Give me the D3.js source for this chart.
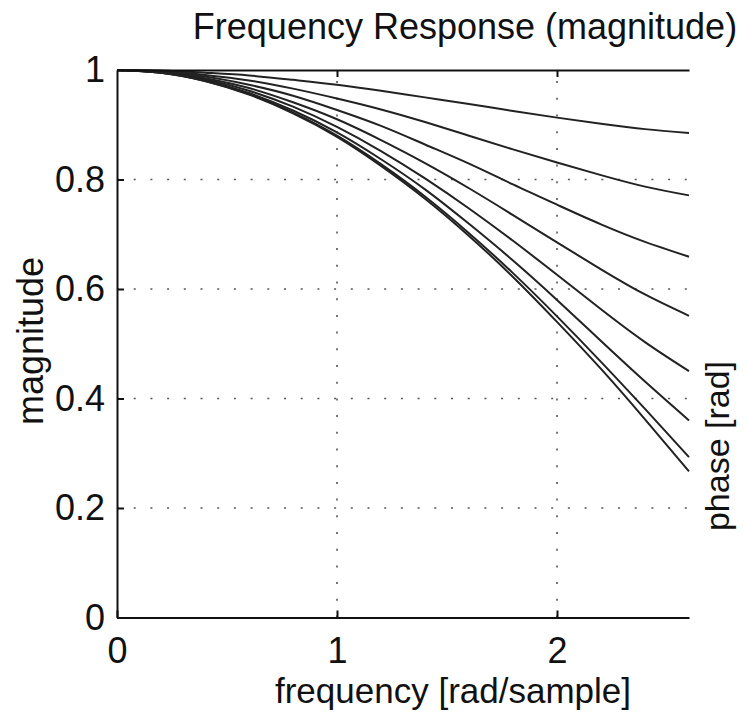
<!DOCTYPE html>
<meta charset="utf-8">
<body style="margin:0;background:#fff">
<style>

text {
  font-family: "Liberation Sans", Arial, sans-serif;
  fill: #111;
}

.curve {
  fill: none;
  stroke: #222;
  stroke-width: 2px;
}

.grid line {
  stroke: #555;
  stroke-width: 1.6px;
  stroke-dasharray: 2, 14.7;
}

</style>
<script src="https://d3js.org/d3.v7.min.js"></script>
<script>

var freq = [0, 0.2, 0.4, 0.6, 0.8, 1.0, 1.2, 1.4, 1.6, 1.8, 2.0, 2.2, 2.4, 2.6];

// magnitude of each curve, top to bottom
var mag1 = [1, 0.999, 0.995, 0.990, 0.982, 0.973, 0.962, 0.950, 0.938, 0.925, 0.913, 0.902, 0.892, 0.885];
var mag2 = [1, 0.998, 0.991, 0.981, 0.966, 0.948, 0.928, 0.905, 0.880, 0.855, 0.831, 0.808, 0.787, 0.771];
var mag3 = [1, 0.997, 0.988, 0.973, 0.953, 0.927, 0.898, 0.864, 0.829, 0.791, 0.754, 0.718, 0.686, 0.659];
var mag4 = [1, 0.996, 0.985, 0.967, 0.941, 0.910, 0.872, 0.830, 0.784, 0.735, 0.685, 0.636, 0.590, 0.551];
var mag5 = [1, 0.996, 0.983, 0.962, 0.933, 0.896, 0.852, 0.802, 0.747, 0.688, 0.626, 0.563, 0.503, 0.450];
var mag6 = [1, 0.995, 0.981, 0.958, 0.926, 0.886, 0.837, 0.782, 0.719, 0.652, 0.580, 0.505, 0.431, 0.360];
var mag7 = [1, 0.995, 0.980, 0.956, 0.922, 0.880, 0.828, 0.769, 0.702, 0.629, 0.550, 0.467, 0.381, 0.293];
var mag8 = [1, 0.995, 0.980, 0.955, 0.921, 0.878, 0.825, 0.765, 0.697, 0.622, 0.540, 0.454, 0.362, 0.267];

var series = [mag1, mag2, mag3, mag4, mag5, mag6, mag7, mag8];

var xTicks = [0, 1, 2];
var yTicks = [0, 0.2, 0.4, 0.6, 0.8, 1];

var svg = d3.select("body").append("svg")
    .attr("width", 746)
    .attr("height", 716);

var x = d3.scaleLinear().domain([0, 2.6]).range([117, 689]);
var y = d3.scaleLinear().domain([0, 1]).range([617.5, 70]);

// dotted grid
var grid = svg.append("g").attr("class", "grid");
grid.selectAll(".gx")
    .data([1, 2])
  .enter().append("line")
    .attr("x1", d => x(d)).attr("x2", d => x(d))
    .attr("y1", y(0)).attr("y2", y(1));
grid.selectAll(".gy")
    .data([0.2, 0.4, 0.6, 0.8])
  .enter().append("line")
    .attr("x1", x(0)).attr("x2", x(2.6))
    .attr("y1", d => y(d)).attr("y2", d => y(d));

// curves
var line = d3.line()
    .x((d, i) => x(freq[i]))
    .y(d => y(d))
    .curve(d3.curveNatural);

svg.selectAll(".curve")
    .data(series)
  .enter().append("path")
    .attr("class", "curve")
    .attr("d", line);

// axes (ticks point inward, like matlab)
var bottomAx = svg.append("g")
    .attr("transform", "translate(0," + y(0) + ")")
    .call(d3.axisBottom(x).tickValues(xTicks).tickSizeInner(-7).tickSizeOuter(0).tickFormat(d3.format("d")));
var leftAx = svg.append("g")
    .attr("transform", "translate(" + x(0) + ",0)")
    .call(d3.axisLeft(y).tickValues(yTicks).tickSizeInner(-7).tickSizeOuter(0).tickFormat(d => d === 0 || d === 1 ? d : d3.format(".1f")(d)));
var topAx = svg.append("g")
    .attr("transform", "translate(0," + y(1) + ")")
    .call(d3.axisTop(x).tickValues([1, 2]).tickSizeInner(-7).tickSizeOuter(0).tickFormat(""));

[bottomAx, leftAx, topAx].forEach(function(g) {
  g.select(".domain").attr("stroke", "#111").attr("stroke-width", 2);
  g.selectAll(".tick line").attr("stroke", "#111").attr("stroke-width", 2);
  g.selectAll(".tick text")
      .style("font-family", "'Liberation Sans', Arial, sans-serif")
      .style("font-size", "36px")
      .attr("fill", "#111");
});
bottomAx.selectAll(".tick text").attr("dy", "0.71em").attr("y", 20);
leftAx.selectAll(".tick text").attr("x", -12);

// labels
svg.append("text")
    .attr("x", 465).attr("y", 39)
    .attr("text-anchor", "middle")
    .style("font-size", "36px")
    .text("Frequency Response (magnitude)");

svg.append("text")
    .attr("x", 453).attr("y", 703)
    .attr("text-anchor", "middle")
    .style("font-size", "35px")
    .text("frequency [rad/sample]");

svg.append("text")
    .attr("transform", "translate(43,341) rotate(-90)")
    .attr("text-anchor", "middle")
    .style("font-size", "36px")
    .text("magnitude");

svg.append("text")
    .attr("transform", "translate(729,446) rotate(-90)")
    .attr("text-anchor", "middle")
    .style("font-size", "34px")
    .text("phase [rad]");

</script>
</body>
